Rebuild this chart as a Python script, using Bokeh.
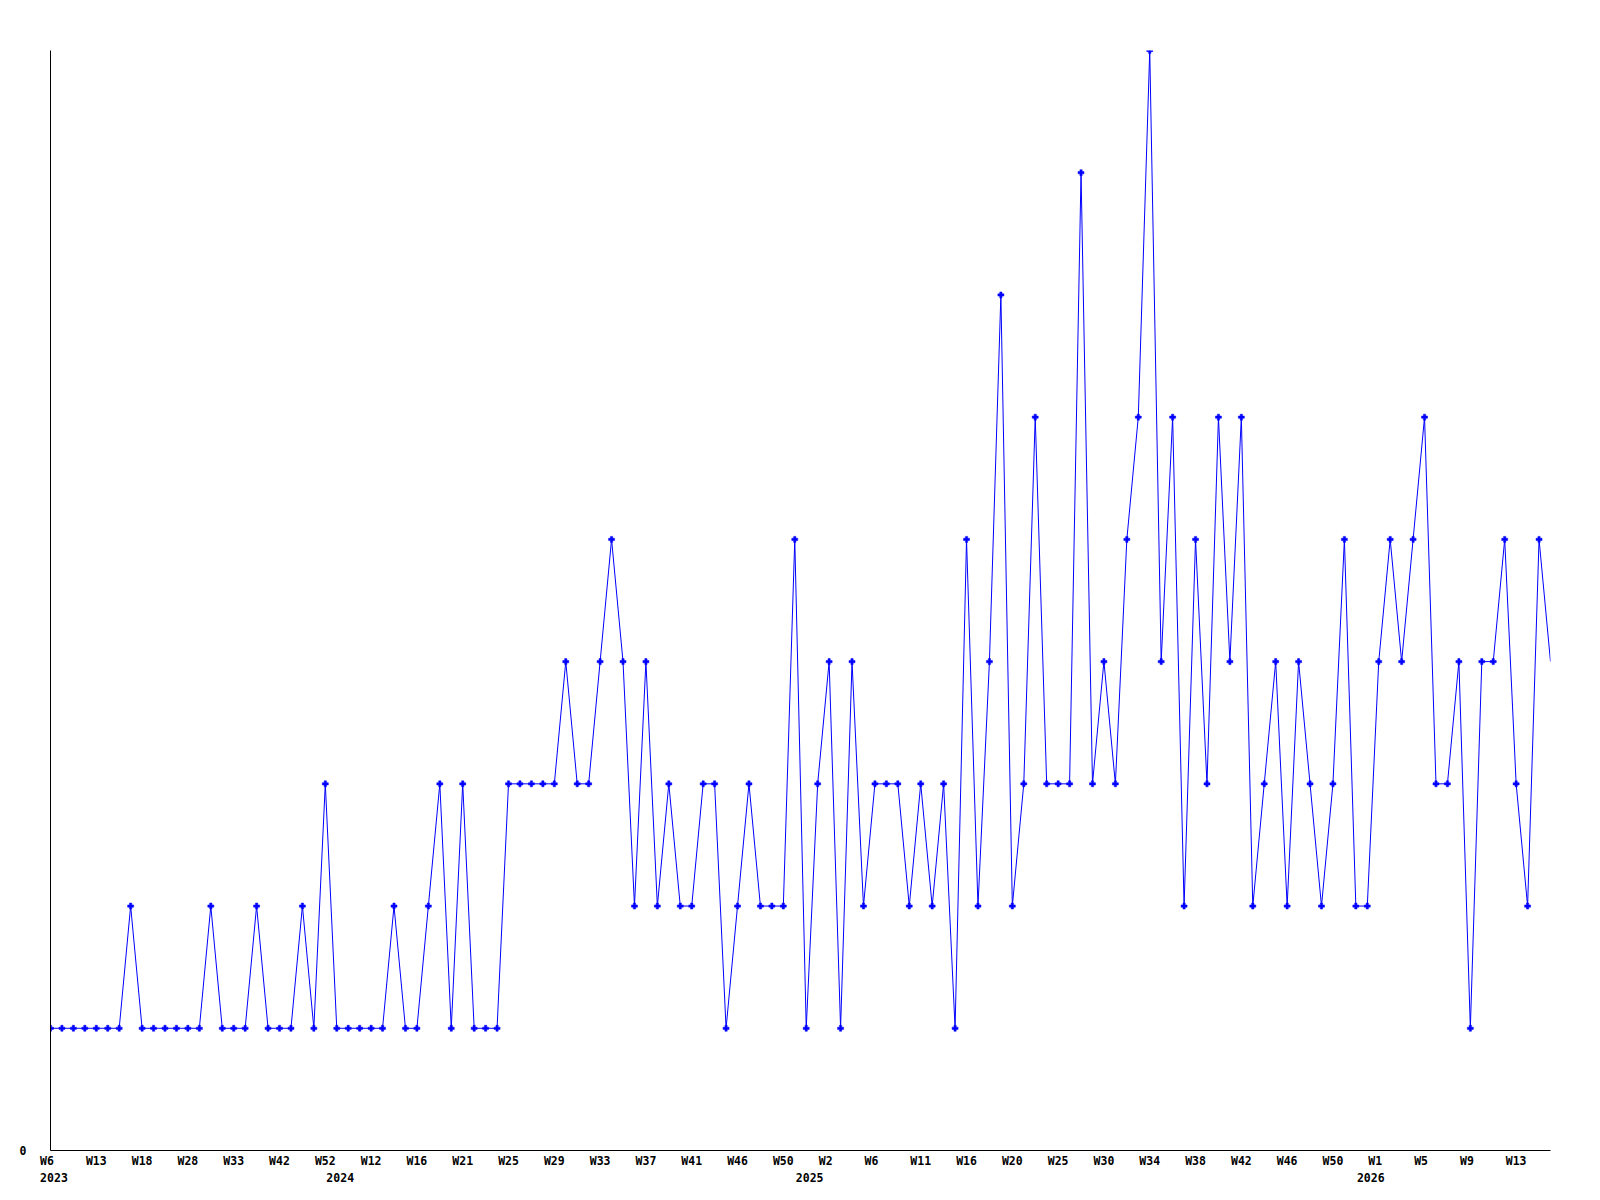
from bokeh.plotting import figure
from bokeh.models import Range1d, FixedTicker, LinearAxis, ColumnDataSource
from bokeh.embed import file_html
from bokeh.resources import INLINE

# weekly values (one per data point, in order)
values = [1, 1, 1, 1, 1, 1, 1, 2, 1, 1, 1, 1, 1, 1, 2, 1, 1, 1, 2, 1,
          1, 1, 2, 1, 3, 1, 1, 1, 1, 1, 2, 1, 1, 2, 3, 1, 3, 1, 1, 1,
          3, 3, 3, 3, 3, 4, 3, 3, 4, 5, 4, 2, 4, 2, 3, 2, 2, 3, 3, 1,
          2, 3, 2, 2, 2, 5, 1, 3, 4, 1, 4, 2, 3, 3, 3, 2, 3, 2, 3, 1,
          5, 2, 4, 7, 2, 3, 6, 3, 3, 3, 8, 3, 4, 3, 5, 6, 9, 4, 6, 2,
          5, 3, 6, 4, 6, 2, 3, 4, 2, 4, 3, 2, 3, 5, 2, 2, 4, 5, 4, 5,
          6, 3, 3, 4, 1, 4, 4, 5, 3, 2, 5, 4]

# week tick labels (every 4th data point)
week_labels = ["W6", "W13", "W18", "W28", "W33", "W42", "W52", "W12", "W16",
               "W21", "W25", "W29", "W33", "W37", "W41", "W46", "W50", "W2",
               "W6", "W11", "W16", "W20", "W25", "W30", "W34", "W38", "W42",
               "W46", "W50", "W1", "W5", "W9", "W13"]
week_idx = [4 * k for k in range(len(week_labels))]

# year labels at first data point of each year
year_labels = ["2023", "2024", "2025", "2026"]
year_idx = [0, 25, 66, 115]

x = list(range(len(values)))
src_line = ColumnDataSource(dict(x=x, y=values))
src_pts = ColumnDataSource(dict(x=x[:-1], y=values[:-1]))

FONT = "DejaVu Sans Mono"
FSIZE = "11.5px"

p = figure(width=1592, height=1192, output_backend="svg", toolbar_location=None,
           x_range=Range1d(0, len(values) - 1), y_range=Range1d(0, 9),
           min_border_left=50, min_border_top=50, min_border_right=42,
           min_border_bottom=42, x_axis_location=None, y_axis_location=None)
p.outline_line_color = None
p.xgrid.visible = False
p.ygrid.visible = False
p.background_fill_color = "white"
p.border_fill_color = "white"

p.line("x", "y", source=src_line, line_color="#0000ff", line_width=1)
p.scatter("x", "y", source=src_pts, marker="plus", size=6,
          fill_color="#0000ff", line_color="#0000ff", line_width=0.5)

def style(ax, standoff):
    ax.major_tick_in = 0
    ax.major_tick_out = 0
    ax.minor_tick_in = 0
    ax.minor_tick_out = 0
    ax.major_label_text_font = FONT
    ax.major_label_text_font_style = "bold"
    ax.major_label_text_font_size = FSIZE
    ax.major_label_text_color = "black"
    ax.major_label_standoff = standoff

xa = LinearAxis(ticker=FixedTicker(ticks=week_idx),
                major_label_overrides={i: (l + " " if len(l) == 2 else l)
                                       for i, l in zip(week_idx, week_labels)})
style(xa, 3)
xa.axis_line_color = "black"
xa.axis_line_width = 1
p.add_layout(xa, "below")

ya = LinearAxis(ticker=FixedTicker(ticks=[0]), major_label_overrides={0: "0"})
style(ya, 24)
ya.axis_line_color = "black"
p.add_layout(ya, "left")

yr = LinearAxis(ticker=FixedTicker(ticks=year_idx),
                major_label_overrides={i: "\u00a0" + l for i, l in zip(year_idx, year_labels)})
style(yr, 0)
yr.axis_line_color = None
p.add_layout(yr, "below")

open("out.html", "w").write(file_html(p, INLINE))
